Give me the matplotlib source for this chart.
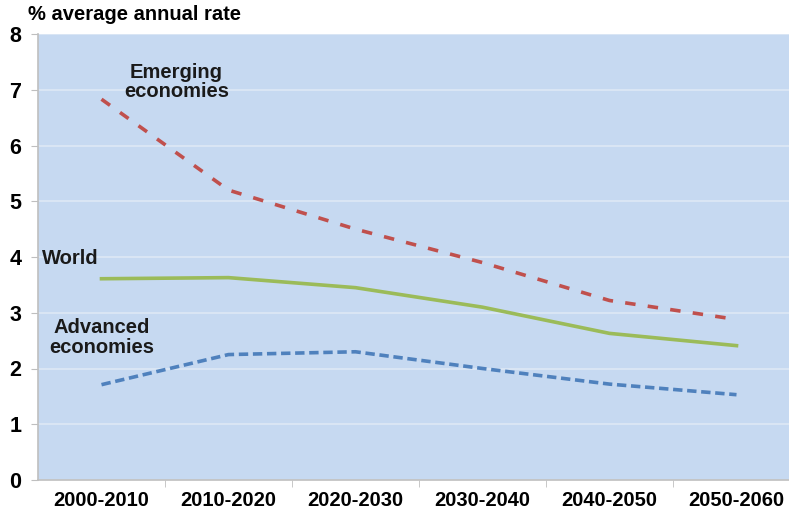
import matplotlib.pyplot as plt

periods = ["2000-2010", "2010-2020", "2020-2030", "2030-2040", "2040-2050", "2050-2060"]
emerging = [6.83, 5.2, 4.5, 3.9, 3.22, 2.88]
world = [3.61, 3.63, 3.45, 3.1, 2.63, 2.41]
advanced = [1.71, 2.25, 2.3, 2.0, 1.72, 1.53]

plt.rcParams["font.family"] = ["Liberation Sans", "DejaVu Sans"]
plt.rcParams["font.weight"] = "bold"

fig = plt.figure(figsize=(7.89, 5.14), dpi=100)
ax = fig.add_axes([38 / 789, 34 / 514, 762 / 789, 446 / 514])
ax.set_facecolor("#c6d9f1")

x = range(len(periods))
ax.plot(x, emerging, color="#c0504d", lw=2.6, dashes=(2.9, 3.4))
ax.plot(x, world, color="#9bbb59", lw=2.6)
ax.plot(x, advanced, color="#4f81bd", lw=2.6, dashes=(2.6, 1.3))

ax.set_ylim(0, 8)
ax.set_xlim(-0.5, len(periods) - 0.5)
ax.set_yticks(range(0, 9))
ax.set_xticks(list(x))
ax.set_xticklabels(periods)
ax.set_xticks([i + 0.5 for i in range(len(periods) - 1)], minor=True)
ax.grid(axis="y", color="#dde8f5", lw=1.2)
ax.set_axisbelow(True)

for s in ["top", "right"]:
    ax.spines[s].set_visible(False)
for s in ["left", "bottom"]:
    ax.spines[s].set_color("#bfbfbf")
    ax.spines[s].set_linewidth(1.2)

ax.tick_params(axis="y", labelsize=15.5, length=5, color="#bfbfbf", pad=7)
ax.tick_params(axis="x", which="major", labelsize=14.5, length=0, pad=8)
ax.tick_params(axis="x", which="minor", length=5, color="#bfbfbf")

fig.text(28 / 789, 1 - 15 / 514, "% average annual rate", fontsize=14.5,
         fontweight="bold", va="center", ha="left")

ax.text(0.59, 7.14, "Emerging\neconomies", ha="center", va="center",
        fontsize=14.5, fontweight="bold", color="#1a1a1a", linespacing=1.05)
ax.text(-0.47, 3.97, "World", ha="left", va="center", fontsize=14.5,
        fontweight="bold", color="#1a1a1a")
ax.text(0.0, 2.55, "Advanced\neconomies", ha="center", va="center",
        fontsize=14.5, fontweight="bold", color="#1a1a1a", linespacing=1.05)

fig.savefig("out.png", dpi=100)
